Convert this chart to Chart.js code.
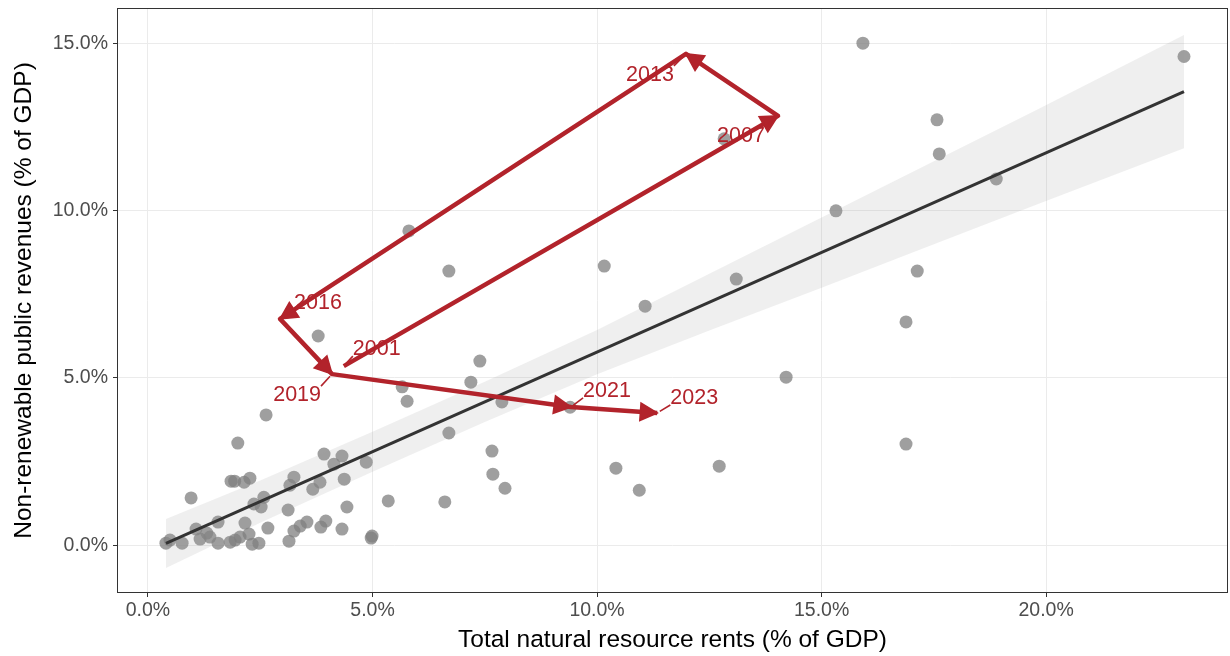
<!DOCTYPE html>
<html>
<head>
<meta charset="utf-8">
<script src="https://cdn.jsdelivr.net/npm/chart.js@4.4.1/dist/chart.umd.min.js"></script>
<style>
  html, body { margin: 0; padding: 0; background: #fff; }
  #wrap { width: 1230px; height: 656px; }
</style>
</head>
<body>
<div id="wrap"><canvas id="chart" width="1230" height="656"></canvas></div>
<script>
// Pontos dos paises: rendas (% PIB) x receitas (% PIB)
const rentsX = [15.92, 23.07, 17.57, 17.62, 18.89, 15.32, 17.13, 16.88, 16.88, 14.21,
  13.10, 10.16, 11.07, 5.81, 6.70, 3.79, 12.83, 12.72, 7.39, 7.19,
  5.66, 5.77, 7.88, 6.70, 7.66, 7.68, 7.95, 10.42, 10.94, 5.35,
  6.61, 4.99, 2.63, 2.00, 0.96, 1.85, 1.93, 2.14, 2.27, 3.92,
  4.32, 4.14, 4.86, 3.25, 3.16, 3.83, 3.67, 4.37, 2.58, 2.52,
  2.36, 3.12, 4.43, 1.56, 1.07, 1.31, 1.16, 0.40, 0.49, 0.76,
  1.56, 1.83, 1.94, 2.05, 2.16, 2.25, 2.32, 2.47, 2.67, 3.14,
  3.25, 3.39, 3.54, 3.85, 3.96, 4.32, 4.97, 9.40, 1.38];
const revenuesY = [15.00, 14.60, 12.71, 11.69, 10.94, 9.99, 8.19, 6.67, 3.02, 5.02,
  7.95, 8.34, 7.14, 9.39, 8.19, 6.25, 12.14, 2.36, 5.50, 4.87,
  4.73, 4.30, 4.28, 3.35, 2.81, 2.12, 1.70, 2.30, 1.64, 1.32,
  1.29, 0.27, 3.89, 3.05, 1.41, 1.91, 1.91, 1.88, 2.00, 2.72,
  2.66, 2.42, 2.48, 2.03, 1.79, 1.88, 1.67, 1.97, 1.43, 1.14,
  1.23, 1.05, 1.14, 0.69, 0.48, 0.36, 0.18, 0.06, 0.15, 0.06,
  0.06, 0.09, 0.15, 0.24, 0.66, 0.33, 0.03, 0.06, 0.51, 0.12,
  0.42, 0.57, 0.69, 0.54, 0.72, 0.48, 0.21, 4.12, 0.24];

// Trajetoria do pais destacado
const pathYears = ['2001', '2007', '2013', '2016', '2019', '2021', '2023'];
const pathX = [4.36, 14.03, 11.98, 2.94, 4.10, 9.42, 11.34];
const pathY = [5.35, 12.83, 14.68, 6.76, 5.11, 4.13, 3.95];

// Reta de regressao e faixa de confianca
const fitX = [0.40, 23.07];
const fitY = [0.05, 13.55];
const bandX = [0.40, 2.5, 5, 7.5, 10, 12.5, 15, 17.5, 19.85, 23.07];
const bandLow = [-0.68, 0.67, 2.19, 3.68, 5.11, 6.41, 7.69, 8.99, 10.21, 11.86];
const bandHigh = [0.78, 1.93, 3.39, 4.88, 6.43, 8.11, 9.79, 11.47, 13.05, 15.24];

const xTicks = [0, 5, 10, 15, 20];
const yTicks = [0, 5, 10, 15];

const FONT = '"Liberation Sans", Arial, sans-serif';
const RED = '#B2232B';

const zip = (xs, ys) => xs.map((x, i) => ({ x: x, y: ys[i] }));
const pct = v => Number(v).toFixed(1) + '%';

// --- moldura do painel (theme_bw) ---
const panelBorder = {
  id: 'panelBorder',
  afterDraw(chart) {
    const { ctx, chartArea: a } = chart;
    ctx.save();
    ctx.strokeStyle = '#333333';
    ctx.lineWidth = 1;
    ctx.strokeRect(Math.round(a.left) + 0.5, Math.round(a.top) + 0.5,
      Math.round(a.right - a.left) - 1, Math.round(a.bottom - a.top) - 1);
    ctx.restore();
  }
};

// --- setas e rotulos dos anos ---
const labelOffsets = {
  '2001': [33, -18], '2007': [-37, 19], '2013': [-36, 20], '2016': [38, -17],
  '2019': [-35, 20], '2021': [36, -17], '2023': [37, -16]
};

const pathArrows = {
  id: 'pathArrows',
  afterDatasetsDraw(chart) {
    const pts = chart.getDatasetMeta(0).data;
    const ctx = chart.ctx;
    ctx.save();
    ctx.fillStyle = RED;
    ctx.strokeStyle = RED;
    // pontas de seta fechadas
    for (let i = 1; i < pts.length; i++) {
      const p0 = pts[i - 1], p1 = pts[i];
      const ang = Math.atan2(p1.y - p0.y, p1.x - p0.x);
      const len = 19, half = 0.48;
      ctx.beginPath();
      ctx.moveTo(p1.x, p1.y);
      ctx.lineTo(p1.x - len * Math.cos(ang - half), p1.y - len * Math.sin(ang - half));
      ctx.lineTo(p1.x - len * Math.cos(ang + half), p1.y - len * Math.sin(ang + half));
      ctx.closePath();
      ctx.lineJoin = 'miter';
      ctx.lineWidth = 1.5;
      ctx.fill();
      ctx.stroke();
    }
    // rotulos (estilo ggrepel)
    ctx.font = '21.5px ' + FONT;
    ctx.textAlign = 'center';
    ctx.textBaseline = 'middle';
    pts.forEach((p, i) => {
      const yr = pathYears[i];
      const off = labelOffsets[yr];
      const cx = p.x + off[0], cy = p.y + off[1];
      const w = ctx.measureText(yr).width, h = 16;
      const bx = Math.min(Math.max(p.x, cx - w / 2), cx + w / 2);
      const by = Math.min(Math.max(p.y, cy - h / 2), cy + h / 2);
      const d = Math.hypot(bx - p.x, by - p.y);
      if (d > 5) {
        const sx = p.x + (bx - p.x) * 3 / d, sy = p.y + (by - p.y) * 3 / d;
        ctx.lineWidth = 1.6;
        ctx.beginPath();
        ctx.moveTo(sx, sy);
        ctx.lineTo(bx, by);
        ctx.stroke();
      }
      ctx.fillText(yr, cx, cy + 1);
    });
    ctx.restore();
  }
};

const ctx = document.getElementById('chart').getContext('2d');

new Chart(ctx, {
  type: 'scatter',
  data: {
    datasets: [
      {
        // trajetoria
        type: 'line',
        data: zip(pathX, pathY),
        showLine: true,
        borderColor: RED,
        borderWidth: 4.5,
        borderJoinStyle: 'round',
        pointRadius: 0,
        fill: false,
        order: 1
      },
      {
        type: 'line',
        data: zip(fitX, fitY),
        showLine: true,
        borderColor: '#333333',
        borderWidth: 3,
        pointRadius: 0,
        fill: false,
        order: 2
      },
      {
        type: 'line',
        data: zip(bandX, bandLow),
        showLine: true,
        borderWidth: 0,
        borderColor: 'rgba(0,0,0,0)',
        pointRadius: 0,
        fill: false,
        order: 3
      },
      {
        type: 'line',
        data: zip(bandX, bandHigh),
        showLine: true,
        borderWidth: 0,
        borderColor: 'rgba(0,0,0,0)',
        backgroundColor: 'rgba(153,153,153,0.16)',
        pointRadius: 0,
        fill: 2,
        order: 3
      },
      {
        data: zip(rentsX, revenuesY),
        pointRadius: 6.5,
        pointHoverRadius: 6.5,
        backgroundColor: 'rgba(127,127,127,0.75)',
        borderWidth: 0,
        order: 4
      }
    ]
  },
  options: {
    responsive: false,
    animation: false,
    devicePixelRatio: 1,
    layout: { autoPadding: false, padding: { top: 8, right: 2, left: 0, bottom: 0 } },
    plugins: {
      legend: { display: false },
      tooltip: { enabled: false }
    },
    scales: {
      x: {
        type: 'linear',
        min: -0.69,
        max: 24.05,
        afterBuildTicks: s => { s.ticks = xTicks.map(v => ({ value: v })); },
        afterFit: s => { s.height = 63; s.paddingLeft = 0; s.paddingRight = 0; },
        grid: { color: '#EBEBEB', lineWidth: 1, tickColor: '#333333', tickLength: 4 },
        border: { display: false },
        ticks: {
          color: '#4D4D4D', font: { family: FONT, size: 19.5 }, padding: 2,
          maxRotation: 0, autoSkip: false, callback: pct
        },
        title: {
          display: true, text: 'Total natural resource rents (% of GDP)',
          color: '#000', font: { family: FONT, size: 24.5 }, padding: { bottom: 1 }
        }
      },
      y: {
        type: 'linear',
        min: -1.43,
        max: 16.05,
        afterBuildTicks: s => { s.ticks = yTicks.map(v => ({ value: v })); },
        afterFit: s => { s.width = 117; s.paddingTop = 0; s.paddingBottom = 0; },
        grid: { color: '#EBEBEB', lineWidth: 1, tickColor: '#333333', tickLength: 4 },
        border: { display: false },
        ticks: {
          color: '#4D4D4D', font: { family: FONT, size: 19.5 }, padding: 5,
          autoSkip: false, callback: pct
        },
        title: {
          display: true, text: 'Non-renewable public revenues (% of GDP)',
          color: '#000', font: { family: FONT, size: 24.5 }, padding: { top: 10 }
        }
      }
    }
  },
  plugins: [panelBorder, pathArrows]
});
</script>
</body>
</html>
